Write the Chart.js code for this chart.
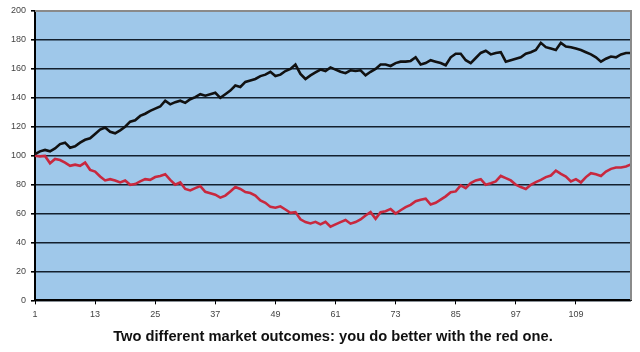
<!DOCTYPE html>
<html>
<head>
<meta charset="utf-8">
<script src="https://cdn.jsdelivr.net/npm/chart.js@4"></script>
<style>
  body { margin: 0; background: #fff; }
  #wrap { width: 640px; height: 352px; }
</style>
</head>
<body>
<div id="wrap"><canvas id="myChart" width="640" height="352"></canvas></div>
<script>
// valores (120 meses)
const meses = [];
for (let i = 1; i <= 120; i++) meses.push(String(i));

const negra = [101,103,104,103,105,108,109,105.5,106.5,109,
  111,112,115,118,119.5,116.5,115.5,117.5,120,123.5,
  124.5,127.5,129,131,132.5,134,138,135.5,137,138,
  136.5,139,140.5,142.5,141.5,142.5,143.5,140,142.5,145,
  148.5,147.5,151,152,153,155,156,158,155,156,
  158.5,160,163,156.5,153,155.5,157.5,159.5,158.5,161,
  159.5,158,157,159,158.5,159,155.5,158,160,163,
  163,162,164,165,165,165.5,168,163,164,166,
  165,164,162.5,168,170.5,170.5,166,164,167.5,171,
  172.5,170,171,171.5,165,166,167,168,170.5,171.5,
  173,178,175,174,173,178,175.5,175,174,173,
  171.5,170,168,165,167,168.5,168,170,171,171];

const roja = [100,99.5,99.8,94.7,97.7,97,95.2,93,93.8,93,
  95.2,90.2,89,85.6,82.9,83.8,82.9,81.5,82.9,79.9,
  80.4,82.2,83.8,83.3,85.2,86,87.2,83.3,79.9,81.5,
  77,76,77.6,79,75,74,73,71,72.4,75.3,
  78.3,77,74.9,74.2,72.4,69,67.4,64.6,64,65,
  62.8,60.5,61,56,54.1,53.2,54.3,52.5,54.3,50.9,
  52.5,54.1,55.5,53,54.1,55.9,58.7,61,56.4,61,
  61.6,63.2,60,62.3,64.4,66,68.5,69.6,70.3,66.2,
  67.4,69.6,71.9,74.7,75.3,79.5,77.6,81,82.9,83.8,
  79.9,81,82.2,86,84.5,82.9,79.9,78.3,77,79.9,
  81.7,83.3,85.2,86.3,89.7,87.4,85.6,82.2,83.8,81.5,
  85.2,87.9,87.2,86,89,90.9,91.8,91.8,92.5,94];

const titulo = "Two different market outcomes: you do better with the red one.";

const fondo = {
  id: 'fondo',
  beforeDraw(chart) {
    const a = chart.chartArea;
    const c = chart.ctx;
    c.save();
    c.fillStyle = '#9fc8ea';
    c.fillRect(a.left, a.top, a.right - a.left, a.bottom - a.top);
    c.restore();
  },
  afterDatasetsDraw(chart) {
    const a = chart.chartArea;
    const c = chart.ctx;
    c.save();
    c.strokeStyle = '#8a8a8a';
    c.lineWidth = 2;
    c.beginPath();
    c.moveTo(a.left, a.top);
    c.lineTo(a.right, a.top);
    c.lineTo(a.right, a.bottom);
    c.stroke();
    c.restore();
  }
};

function graficos() {
  const ctx = document.getElementById('myChart').getContext('2d');
  new Chart(ctx, {
    type: 'line',
    data: {
      labels: meses,
      datasets: [{
        label: 'negra',
        data: negra,
        borderColor: '#111111',
        borderWidth: 2.6,
        pointRadius: 0,
        tension: 0
      }, {
        label: 'roja',
        data: roja,
        borderColor: '#c8283e',
        borderWidth: 2.6,
        pointRadius: 0,
        tension: 0
      }]
    },
    options: {
      responsive: false,
      animation: false,
      layout: { padding: { top: 11, right: 9, left: 0, bottom: 6 } },
      plugins: {
        legend: { display: false },
        tooltip: { enabled: false },
        title: {
          display: true,
          fullSize: false,
          text: titulo,
          position: 'bottom',
          color: '#111',
          font: { family: 'Liberation Sans, Arial, sans-serif', size: 14.7, weight: 'bold' },
          padding: { top: 4, bottom: 0 }
        }
      },
      scales: {
        x: {
          offset: false,
          afterFit(scale) { scale.height = 24; },
          grid: {
            drawOnChartArea: false,
            drawTicks: true,
            tickLength: 4,
            tickColor: (c) => (c.index % 12 === 0 ? '#000' : 'rgba(0,0,0,0)')
          },
          border: { color: '#000', width: 2 },
          ticks: {
            autoSkip: false,
            maxRotation: 0,
            padding: 5,
            color: '#444',
            font: { family: 'Liberation Sans, Arial, sans-serif', size: 9 },
            callback: (v, i) => (i % 12 === 0 ? meses[i] : '')
          }
        },
        y: {
          min: 0,
          max: 200,
          afterFit(scale) { scale.width = 35; },
          grid: {
            color: (c) => (c.tick && c.tick.value === 200 ? '#8a8a8a' : '#13202e'),
            lineWidth: 1.6,
            tickLength: 4,
            tickColor: '#000'
          },
          border: { color: '#000', width: 2 },
          ticks: {
            stepSize: 20,
            padding: 5,
            color: '#444',
            font: { family: 'Liberation Sans, Arial, sans-serif', size: 9 }
          }
        }
      }
    },
    plugins: [fondo]
  });
}

window.addEventListener('load', graficos);
</script>
</body>
</html>
